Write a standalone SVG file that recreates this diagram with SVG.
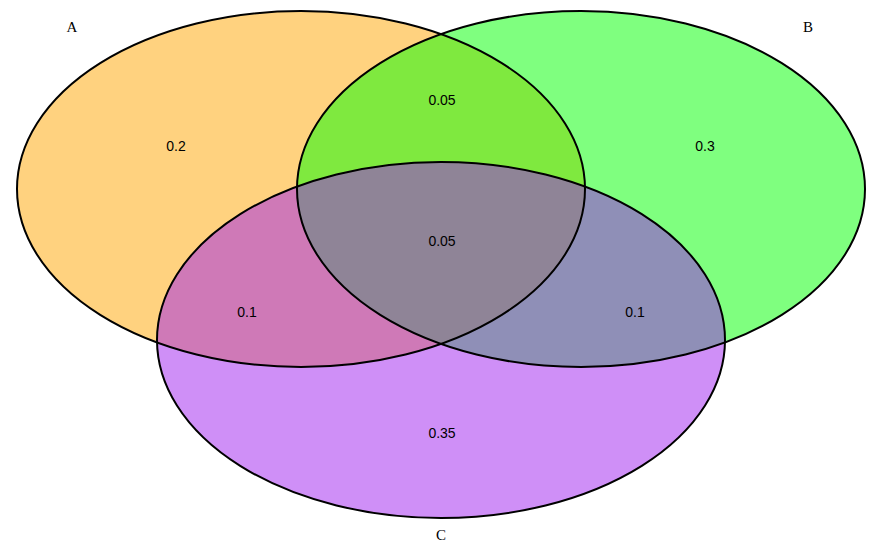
<svg xmlns="http://www.w3.org/2000/svg" width="884" height="553" viewBox="0 0 884 553">
<style>
.set{stroke:none;fill-opacity:0.5}
.outline{fill:none;stroke:#000;stroke-width:2}
.num{font-family:"Liberation Sans",Arial,sans-serif;font-size:14px;text-anchor:middle;dominant-baseline:central;fill:#000}
.lab{font-family:"Liberation Serif","Times New Roman",serif;font-size:15px;text-anchor:middle;dominant-baseline:central;fill:#000}
</style>
<rect width="884" height="553" fill="#fff"/>
<g id="A"><ellipse id="eA" class="set" cx="301" cy="189" rx="284" ry="178" fill="#FFA500"/></g>
<g id="B"><ellipse id="eB" class="set" cx="581" cy="189" rx="284" ry="178" fill="#00FF00"/></g>
<g id="C"><ellipse id="eC" class="set" cx="441" cy="340" rx="284" ry="178" fill="#A020F0"/></g>
<g id="outlines">
<ellipse class="outline" cx="301" cy="189" rx="284" ry="178"/>
<ellipse class="outline" cx="581" cy="189" rx="284" ry="178"/>
<ellipse class="outline" cx="441" cy="340" rx="284" ry="178"/>
</g>
<g id="labels">
<text class="lab" x="72" y="27">A</text>
<text class="lab" x="808" y="27">B</text>
<text class="lab" x="441" y="535">C</text>
<text class="num" x="176" y="146">0.2</text>
<text class="num" x="442" y="100">0.05</text>
<text class="num" x="705" y="146">0.3</text>
<text class="num" x="442" y="241">0.05</text>
<text class="num" x="247" y="312">0.1</text>
<text class="num" x="635" y="312">0.1</text>
<text class="num" x="442" y="433">0.35</text>
</g>
</svg>
